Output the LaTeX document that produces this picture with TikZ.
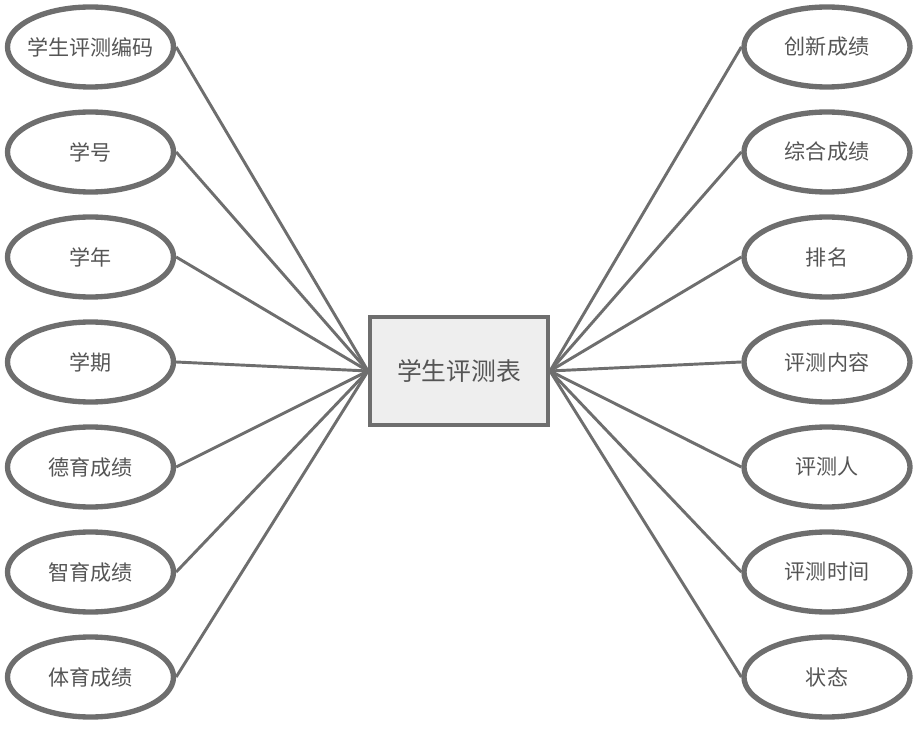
\documentclass[tikz,border=0pt]{standalone}
\usepackage{fontspec}
\setmainfont{Noto Sans CJK SC}
\usepackage{xcolor}
\usepackage{tikz}
\usetikzlibrary{shapes.geometric, positioning}
\definecolor{edgegray}{HTML}{6E6E6E}
\definecolor{textgray}{HTML}{555555}
\definecolor{boxfill}{HTML}{EEEEEE}

\begin{document}
\begin{tikzpicture}[
    x=0.75pt, y=-0.75pt,
    attr/.style={ellipse, draw=edgegray, fill=white, line width=4pt, minimum width=124.5pt, minimum height=60pt, inner sep=0pt, font=\fontsize{15.8}{18}\selectfont, text=textgray},
    entity/.style={rectangle, draw=edgegray, fill=boxfill, line width=3pt, minimum width=133.5pt, minimum height=81pt, inner sep=0pt, font=\fontsize{18.6}{22}\selectfont, text=textgray},
    link/.style={draw=edgegray, line width=2.2pt}
]
\useasboundingbox (0,0) rectangle (917,741);
\node[entity] (tab) at (459,371) {学生评测表};

\node[attr] (l1) at (90.5,47)  {\makebox[0pt]{学生评测编码}};
\node[attr] (l2) at (90.5,152) {学号};
\node[attr] (l3) at (90.5,257) {学年};
\node[attr] (l4) at (90.5,362) {学期};
\node[attr] (l5) at (90.5,467) {德育成绩};
\node[attr] (l6) at (90.5,572) {智育成绩};
\node[attr] (l7) at (90.5,677) {体育成绩};

\node[attr] (r1) at (827,47)  {创新成绩};
\node[attr] (r2) at (827,152) {综合成绩};
\node[attr] (r3) at (827,257) {排名};
\node[attr] (r4) at (827,362) {评测内容};
\node[attr] (r5) at (827,467) {评测人};
\node[attr] (r6) at (827,572) {评测时间};
\node[attr] (r7) at (827,677) {状态};

\foreach \i in {1,...,7} {
    \draw[link] (l\i.east) -- (tab.west);
    \draw[link] (r\i.west) -- (tab.east);
}
\end{tikzpicture}
\end{document}
